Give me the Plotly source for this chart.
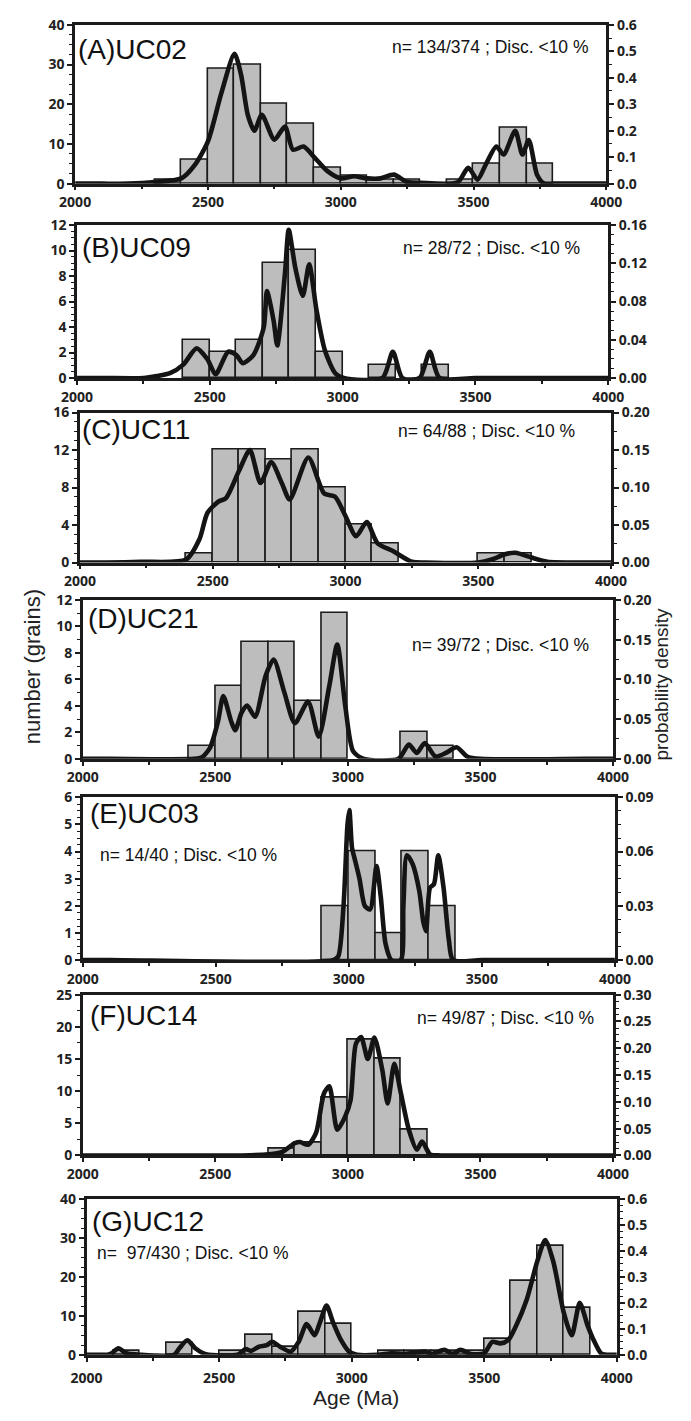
import plotly.graph_objects as go

# ------------------------------------------------------------------ data
# Histogram bins (bin start, Ma; bins are 100 Ma wide) and grain counts
bin_width = 100
binsA = [2300, 2400, 2500, 2600, 2700, 2800, 2900, 3000, 3100, 3200, 3400, 3500, 3600, 3700]
countsA = [1, 6, 29, 30, 20, 15, 4, 2, 1, 1, 1, 5, 14, 5]
binsB = [2400, 2500, 2600, 2700, 2800, 2900, 3100, 3300]
countsB = [3, 2, 3, 9, 10, 2, 1, 1]
binsC = [2400, 2500, 2600, 2700, 2800, 2900, 3000, 3100, 3500, 3600]
countsC = [1, 12, 12, 11, 12, 8, 4, 2, 1, 1]
binsD = [2400, 2500, 2600, 2700, 2800, 2900, 3200, 3300]
countsD = [1, 5.5, 8.8, 8.8, 4.4, 11, 2, 1]
binsE = [2900, 3000, 3100, 3200, 3300]
countsE = [2, 4, 1, 4, 2]
binsF = [2700, 2800, 2900, 3000, 3100, 3200]
countsF = [1, 2, 9, 18, 15, 4]
binsG = [2100, 2300, 2500, 2600, 2700, 2800, 2900, 3100, 3200, 3300, 3400, 3500, 3600, 3700, 3800]
countsG = [1, 3, 1, 5, 2, 11, 8, 1, 1, 1, 1, 4, 19, 28, 12]

# Probability density curves (age Ma, density)
ageA = [2000, 2100, 2200, 2300, 2400, 2450, 2500, 2550, 2600, 2625, 2650, 2675, 2703, 2750, 2790, 2820,
        2860, 2900, 2950, 3000, 3050, 3100, 3150, 3200, 3250, 3300, 3440, 3480, 3515, 3545, 3586,
        3613, 3657, 3684, 3708, 3739, 3765, 3800, 3900, 4000]
pdpA = [0, 0, 0, 0.006, 0.02, 0.07, 0.16, 0.34, 0.49, 0.41, 0.26, 0.2, 0.26, 0.166, 0.216, 0.128,
        0.14, 0.1, 0.047, 0.02, 0.028, 0.02, 0.02, 0.034, 0.006, 0.003, 0.005, 0.06, 0.015, 0.07, 0.14,
        0.11, 0.2, 0.11, 0.165, 0.034, 0.001, 0, 0, 0]
ageB = [2000, 2100, 2250, 2300, 2350, 2400, 2450, 2490, 2522, 2569, 2600, 2624, 2664, 2703, 2715, 2740,
        2754, 2783, 2797, 2822, 2850, 2874, 2901, 2933, 2972, 3004, 3150, 3189, 3225, 3290, 3328,
        3365, 3500, 3900, 4000]
pdpB = [0, 0, 0, 0.002, 0.005, 0.014, 0.031, 0.02, 0.004, 0.0275, 0.024, 0.0155, 0.024, 0.053, 0.091, 0.06,
        0.034, 0.11, 0.155, 0.115, 0.086, 0.119, 0.072, 0.029, 0.005, 0, 0, 0.0275, 0, 0, 0.0275,
        0, 0, 0, 0]
ageC = [2000, 2100, 2230, 2400, 2450, 2480, 2520, 2550, 2600, 2640, 2680, 2720, 2760, 2790, 2860, 2920,
        2960, 3000, 3040, 3080, 3120, 3180, 3250, 3300, 3500, 3550, 3600, 3640, 3700, 3760, 3900, 4000]
pdpC = [0, 0, 0.001, 0.004, 0.031, 0.066, 0.081, 0.086, 0.123, 0.15, 0.106, 0.134, 0.106, 0.084, 0.14, 0.092,
        0.088, 0.062, 0.035, 0.054, 0.026, 0.015, 0.001, 0, 0, 0.004, 0.011, 0.013, 0.0066, 0.001, 0, 0]
ageD = [2000, 2100, 2420, 2450, 2480, 2510, 2530, 2560, 2575, 2600, 2620, 2650, 2690, 2720, 2760, 2800,
        2850, 2890, 2930, 2960, 2990, 3020, 3060, 3190, 3230, 3260, 3290, 3330, 3370, 3410, 3450,
        3500, 3900, 4000]
pdpD = [0, 0, 0, 0.002, 0.014, 0.047, 0.079, 0.047, 0.036, 0.059, 0.067, 0.053, 0.105, 0.125, 0.084, 0.045,
        0.072, 0.028, 0.092, 0.144, 0.067, 0.0095, 0, 0, 0.018, 0.0075, 0.02, 0.003, 0.0075, 0.0145, 0.003,
        0, 0, 0]
ageE = [2000, 2100, 2940, 2960, 2980, 2995, 3002, 3012, 3022, 3040, 3060, 3080, 3104, 3120, 3138, 3160,
        3195, 3205, 3218, 3240, 3265, 3280, 3290, 3305, 3320, 3336, 3356, 3376, 3392, 3500, 3900, 4000]
pdpE = [0, 0, 0, 0.002, 0.03, 0.075, 0.083, 0.062, 0.056, 0.045, 0.03, 0.028, 0.052, 0.035, 0.009, 0,
        0, 0.03, 0.058, 0.053, 0.038, 0.021, 0.016, 0.04, 0.042, 0.058, 0.04, 0.011, 0, 0, 0, 0]
ageF = [2000, 2100, 2600, 2700, 2750, 2800, 2820, 2850, 2880, 2910, 2930, 2960, 2990, 3010, 3030, 3050,
        3075, 3100, 3130, 3150, 3175, 3200, 3230, 3260, 3280, 3310, 3350, 3500, 3900, 4000]
pdpF = [0, 0, 0, 0.002, 0.006, 0.023, 0.025, 0.02, 0.042, 0.116, 0.129, 0.048, 0.073, 0.103, 0.208, 0.221,
        0.18, 0.22, 0.159, 0.097, 0.171, 0.116, 0.048, 0.011, 0.026, 0.002, 0, 0, 0, 0]
ageG = [2000, 2050, 2080, 2095, 2120, 2150, 2200, 2330, 2350, 2380, 2410, 2450, 2570, 2600, 2620, 2650,
        2680, 2700, 2730, 2770, 2800, 2830, 2860, 2880, 2905, 2930, 2960, 2990, 3020, 3100, 3150,
        3200, 3280, 3300, 3350, 3380, 3410, 3450, 3500, 3530, 3560, 3590, 3620, 3660, 3700, 3730,
        3760, 3800, 3830, 3860, 3890, 3910, 3940, 3960, 3990, 4000]
pdpG = [0, 0, 0, 0.006, 0.025, 0.006, 0, 0, 0.025, 0.056, 0.025, 0.002, 0, 0.022, 0.015, 0.031,
        0.037, 0.05, 0.031, 0.012, 0.05, 0.118, 0.075, 0.124, 0.189, 0.124, 0.056, 0.012, 0, 0, 0.006,
        0.003, 0.012, 0.003, 0.019, 0.004, 0.019, 0.003, 0.006, 0.05, 0.044, 0.056, 0.112, 0.212, 0.36, 0.442,
        0.36, 0.162, 0.075, 0.2, 0.112, 0.062, 0.006, 0, 0, 0]

panel_labels = ["(A)UC02", "(B)UC09", "(C)UC11", "(D)UC21", "(E)UC03", "(F)UC14", "(G)UC12"]
panel_notes = ["n= 134/374 ; Disc. <10 %", "n= 28/72 ; Disc. <10 %", "n= 64/88 ; Disc. <10 %",
               "n= 39/72 ; Disc. <10 %", "n= 14/40 ; Disc. <10 %", "n= 49/87 ; Disc. <10 %",
               "n=  97/430 ; Disc. <10 %"]

# axis scales
age_range = [2000, 4000]
age_ticks = [2000, 2500, 3000, 3500, 4000]
count_max = [40, 12, 16, 12, 6, 25, 40]
count_dtick = [10, 2, 4, 2, 1, 5, 10]
count_minor = [2.5, 0.5, 1, 1, 0.25, 2.5, 2.5]
dens_max = [0.6, 0.16, 0.20, 0.20, 0.09, 0.30, 0.6]
dens_dtick = [0.1, 0.04, 0.05, 0.05, 0.03, 0.05, 0.1]
dens_minor = [0.05, 0.01, 0.025, 0.025, 0.0075, 0.0125, 0.025]
dens_fmt = [".1f", ".2f", ".2f", ".2f", ".2f", ".2f", ".1f"]

bins_all = [binsA, binsB, binsC, binsD, binsE, binsF, binsG]
counts_all = [countsA, countsB, countsC, countsD, countsE, countsF, countsG]
ages_all = [ageA, ageB, ageC, ageD, ageE, ageF, ageG]
pdps_all = [pdpA, pdpB, pdpC, pdpD, pdpE, pdpF, pdpG]

# ------------------------------------------------------------------ layout
W, H = 691, 1421
# plot boxes in px: left, right, top, bottom
BOXES = [(62, 619, 15, 176), (64, 621, 218, 373), (67, 624, 408, 560), (70, 626, 598, 759),
         (70, 628, 798, 963), (70, 626, 998, 1161), (74, 630, 1205, 1363)]
XLABEL_STANDOFF = [0, 0, 0, 0, 0, 0, 5]
# label / note anchor points (px)
LABEL_POS = [(63, 40), (67, 241), (67, 425), (73, 617), (76, 814), (76, 1019), (78, 1228)]
NOTE_POS = [(603, 38, "right"), (594, 241, "right"), (588, 427, "right"), (603, 644, "right"),
            (86, 856, "left"), (608, 1022, "right"), (83, 1260, "left")]

TICKFONT = dict(family="Open Sans", size=14, color="#222222", weight=700)
TXT = "Liberation Sans"
INK = "#1b1b1b"

fig = go.Figure()
layout = dict(width=W, height=H, margin=dict(l=0, r=0, t=0, b=0),
              paper_bgcolor="white", plot_bgcolor="white", showlegend=False,
              bargap=0, annotations=[])

for i in range(7):
    k = i + 1
    xid = "x" if k == 1 else f"x{k}"
    ylk, yrk = 2 * k - 1, 2 * k
    ylid = "y" if ylk == 1 else f"y{ylk}"
    yrid = f"y{yrk}"
    L, R, T, B = BOXES[i]
    xdom = [L / W, R / W]
    ydom = [1 - B / H, 1 - T / H]

    fig.add_trace(go.Bar(
        x=bins_all[i], y=counts_all[i], width=bin_width, offset=0,
        xaxis=xid, yaxis=ylid,
        marker=dict(color="#bdbdbd", line=dict(color=INK, width=1.6)),
        hoverinfo="skip"))
    fig.add_trace(go.Scatter(
        x=ages_all[i], y=pdps_all[i], mode="lines",
        xaxis=xid, yaxis=yrid,
        line=dict(color="#141414", width=4.6, shape="spline", smoothing=0.7),
        hoverinfo="skip"))

    layout["xaxis" if k == 1 else f"xaxis{k}"] = dict(
        domain=xdom, anchor=ylid, range=age_range, tickvals=age_ticks,
        ticks="outside", ticklen=4, tickwidth=2, tickcolor=INK,
        minor=dict(dtick=250, ticks="outside", ticklen=3, tickwidth=1.5, tickcolor=INK),
        showline=True, linewidth=2.5, linecolor=INK, mirror=True,
        showgrid=False, zeroline=False, tickfont=TICKFONT,
        ticklabelstandoff=XLABEL_STANDOFF[i])
    layout["yaxis" if ylk == 1 else f"yaxis{ylk}"] = dict(
        domain=ydom, anchor=xid, range=[0, count_max[i]], dtick=count_dtick[i], tick0=0,
        ticks="outside", ticklen=5, tickwidth=2, tickcolor=INK,
        minor=dict(dtick=count_minor[i], tick0=0, ticks="outside", ticklen=3, tickwidth=1.3, tickcolor=INK),
        showline=True, linewidth=2.5, linecolor=INK,
        showgrid=False, zeroline=False, tickfont=TICKFONT)
    layout[f"yaxis{yrk}"] = dict(
        domain=ydom, anchor=xid, overlaying=ylid, side="right",
        range=[0, dens_max[i]], dtick=dens_dtick[i], tick0=0, tickformat=dens_fmt[i],
        ticks="outside", ticklen=5, tickwidth=2, tickcolor=INK,
        minor=dict(dtick=dens_minor[i], tick0=0, ticks="outside", ticklen=3, tickwidth=1.3, tickcolor=INK),
        showline=True, linewidth=2.5, linecolor=INK,
        showgrid=False, zeroline=False, tickfont=TICKFONT)

    lx, ly = LABEL_POS[i]
    layout["annotations"].append(dict(
        text=panel_labels[i], xref="paper", yref="paper", x=lx / W, y=1 - ly / H,
        xanchor="left", yanchor="middle", showarrow=False,
        font=dict(family=TXT, size=28, color="#111111")))
    nx, ny, na = NOTE_POS[i]
    layout["annotations"].append(dict(
        text=panel_notes[i], xref="paper", yref="paper", x=nx / W, y=1 - ny / H,
        xanchor=na, yanchor="middle", showarrow=False,
        font=dict(family=TXT, size=17.5, color="#111111")))

# axis titles
layout["annotations"].append(dict(
    text="number (grains)", xref="paper", yref="paper", x=17 / W, y=1 - 666 / H,
    xanchor="center", yanchor="middle", textangle=-90, showarrow=False,
    font=dict(family=TXT, size=22, color="#222222")))
layout["annotations"].append(dict(
    text="probability density", xref="paper", yref="paper", x=677 / W, y=1 - 683 / H,
    xanchor="center", yanchor="middle", textangle=-90, showarrow=False,
    font=dict(family=TXT, size=19, color="#222222")))
layout["annotations"].append(dict(
    text="Age (Ma)", xref="paper", yref="paper", x=356 / W, y=1 - 1406 / H,
    xanchor="center", yanchor="middle", showarrow=False,
    font=dict(family=TXT, size=21, color="#222222")))

fig.update_layout(**layout)
fig.write_html("out.html")
